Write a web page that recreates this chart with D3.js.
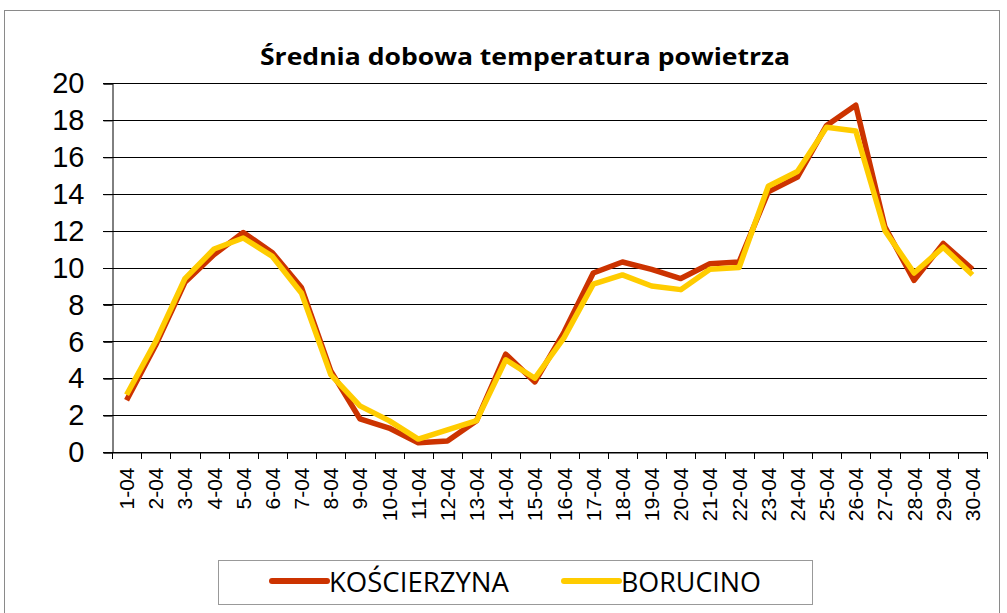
<!DOCTYPE html>
<html>
<head>
<meta charset="utf-8">
<style>
  body { margin: 0; background: #fff; }
  svg { display: block; }
</style>
</head>
<body>
<div class="chartContainer"></div>
<script src="https://d3js.org/d3.v7.min.js"></script>
<script>
    // dane
    const days = d3.range(1, 31).map(d => d + '-04');
    const koscierzyna = [2.8, 5.8, 9.2, 10.7, 11.9, 10.8, 8.9, 4.4, 1.8, 1.3,
                         0.5, 0.6, 1.7, 5.3, 3.8, 6.5, 9.7, 10.3, 9.9, 9.4,
                         10.2, 10.3, 14.1, 14.9, 17.7, 18.8, 12.2, 9.3, 11.3, 9.9];
    const borucino = [3.1, 6.0, 9.4, 11.0, 11.6, 10.6, 8.6, 4.2, 2.5, 1.7,
                      0.7, 1.2, 1.7, 5.0, 4.0, 6.2, 9.1, 9.6, 9.0, 8.8,
                      9.9, 10.0, 14.4, 15.2, 17.6, 17.4, 12.0, 9.7, 11.1, 9.6];
    const yTicks = [0, 2, 4, 6, 8, 10, 12, 14, 16, 18, 20];
    const seriesNames = ['KOŚCIERZYNA', 'BORUCINO'];
    const colors = ['#CC3300', '#FFCC00'];

    const W = 1007, H = 613;
    const plotLeft = 112, plotRight = 987, plotTop = 83, plotBottom = 452;

    const svg = d3.select('.chartContainer')
                  .append('svg')
                  .attr('width', W)
                  .attr('height', H);

    // ramka wykresu
    svg.append('rect')
       .attr('x', 4.5).attr('y', 10.5)
       .attr('width', 995).attr('height', 640)
       .style('fill', '#fff').style('stroke', '#8a8a8a');

    // tytuł
    svg.append('text')
       .attr('x', 525).attr('y', 65)
       .attr('text-anchor', 'middle')
       .attr('textLength', 530).attr('lengthAdjust', 'spacingAndGlyphs')
       .style('font-family', '"Open Sans", "Noto Sans", sans-serif')
       .style('font-weight', 'bold')
       .style('font-size', '24px')
       .text('Średnia dobowa temperatura powietrza');

    const x = d3.scaleBand().domain(days).range([plotLeft, plotRight]);
    const y = d3.scaleLinear().domain([0, 20]).range([plotBottom, plotTop]);

    // linie siatki
    svg.append('g')
       .selectAll('line')
       .data(yTicks)
       .enter()
       .append('line')
       .attr('x1', plotLeft - 9).attr('x2', plotRight)
       .attr('y1', d => Math.round(y(d)) + 0.5)
       .attr('y2', d => Math.round(y(d)) + 0.5)
       .style('stroke', '#000').style('stroke-width', 1);

    // oś Y
    const yAxis = svg.append('g')
       .attr('transform', `translate(${plotLeft + 0.5},0.5)`)
       .call(d3.axisLeft(y).tickValues(yTicks).tickSize(9).tickPadding(19));
    yAxis.selectAll('text')
         .style('font-family', '"Liberation Sans", Arial, sans-serif')
         .style('font-size', '29px')
         .attr('fill', '#000');
    yAxis.selectAll('line, path').style('stroke', '#000');

    // oś X
    const xAxis = svg.append('g')
       .attr('transform', `translate(0,${Math.round(y(0)) + 0.5})`)
       .call(d3.axisBottom(x).tickSize(0));
    xAxis.select('.domain').style('stroke', '#000');
    xAxis.selectAll('text')
         .attr('transform', 'rotate(-90)')
         .attr('text-anchor', 'end')
         .attr('x', -15).attr('y', 0).attr('dy', '0.36em')
         .style('font-family', '"Liberation Sans", Arial, sans-serif')
         .style('font-size', '21px')
         .attr('fill', '#000');

    // znaczniki między kategoriami
    const bounds = days.map(d => x(d)).concat([plotRight]);
    svg.append('g')
       .selectAll('line')
       .data(bounds)
       .enter()
       .append('line')
       .attr('x1', d => Math.round(d) + 0.5).attr('x2', d => Math.round(d) + 0.5)
       .attr('y1', Math.round(y(0))).attr('y2', Math.round(y(0)) + 7)
       .style('stroke', '#000').style('stroke-width', 1);

    // serie
    const line = d3.line()
                   .x((d, i) => x(days[i]) + x.bandwidth() / 2)
                   .y(d => y(d));

    [koscierzyna, borucino].forEach((s, k) => {
      svg.append('path')
         .datum(s)
         .attr('d', line)
         .style('fill', 'none')
         .style('stroke', colors[k])
         .style('stroke-width', 5.5)
         .style('stroke-linejoin', 'round');
    });

    // legenda
    const legend = svg.append('g');
    legend.append('rect')
          .attr('x', 218.5).attr('y', 560.5)
          .attr('width', 594).attr('height', 44)
          .style('fill', '#fff').style('stroke', '#999');

    const legX = [272, 564];
    const legLen = [180, 140];
    seriesNames.forEach((name, k) => {
      legend.append('line')
            .attr('x1', legX[k]).attr('x2', legX[k] + 55)
            .attr('y1', 581).attr('y2', 581)
            .style('stroke', colors[k]).style('stroke-width', 6)
            .style('stroke-linecap', 'round');
      legend.append('text')
            .attr('x', legX[k] + 57).attr('y', 592)
            .attr('textLength', legLen[k]).attr('lengthAdjust', 'spacingAndGlyphs')
            .style('font-family', '"Open Sans", "Noto Sans", sans-serif')
            .style('font-size', '27px')
            .text(name);
    });
</script>
</body>
</html>
